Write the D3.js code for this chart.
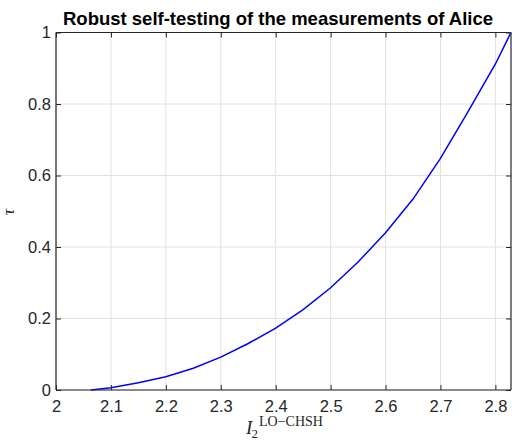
<!DOCTYPE html>
<html><head><meta charset="utf-8">
<script src="https://cdn.jsdelivr.net/npm/d3@7"></script>
<style>body{margin:0;background:#fff}</style>
</head><body>
<script>
const xValues = [2.0635, 2.10, 2.15, 2.20, 2.25, 2.30, 2.35, 2.40, 2.45, 2.50, 2.55, 2.60, 2.65, 2.70, 2.75, 2.80, 2.8284];
const tauValues = [0, 0.006, 0.020, 0.037, 0.061, 0.092, 0.130, 0.173, 0.225, 0.286, 0.358, 0.440, 0.534, 0.648, 0.778, 0.912, 1.0];
const xTicks = [2, 2.1, 2.2, 2.3, 2.4, 2.5, 2.6, 2.7, 2.8];
const yTicks = [0, 0.2, 0.4, 0.6, 0.8, 1];
const titleText = "Robust self-testing of the measurements of Alice";

(function () {
const W = 512, H = 440;
const m = {left: 56, right: 1, top: 32.5, bottom: 50};
const svg = d3.select("body").append("svg").attr("width", W).attr("height", H);
const x = d3.scaleLinear().domain([2, 2*Math.SQRT2]).range([m.left, W - m.right]);
const y = d3.scaleLinear().domain([0, 1]).range([H - m.bottom, m.top]);
const axisColor = "#262626";
const x0 = m.left, x1 = W - m.right, y0 = H - m.bottom, y1 = m.top;

// grid
const g = svg.append("g");
g.selectAll(".gx").data(xTicks).join("line")
  .attr("x1", d => x(d)).attr("x2", d => x(d)).attr("y1", y0).attr("y2", y1)
  .attr("stroke", "#e0e0e0").attr("stroke-width", 1);
g.selectAll(".gy").data(yTicks).join("line")
  .attr("y1", d => y(d)).attr("y2", d => y(d)).attr("x1", x0).attr("x2", x1)
  .attr("stroke", "#e0e0e0").attr("stroke-width", 1);

// curve
svg.append("path")
  .datum(xValues.map((v, i) => [v, tauValues[i]]))
  .attr("d", d3.line().x(d => x(d[0])).y(d => y(d[1])))
  .attr("fill", "none").attr("stroke", "#0000ff").attr("stroke-width", 1.5);

// axes
const fontTick = "'Liberation Sans', Arial, sans-serif";
const axB = svg.append("g").attr("transform", `translate(0,${y0})`)
  .call(d3.axisBottom(x).tickValues(xTicks).tickSize(-5).tickPadding(10).tickFormat(d3.format("")));
const axT = svg.append("g").attr("transform", `translate(0,${y1})`)
  .call(d3.axisTop(x).tickValues(xTicks).tickSize(-5).tickFormat(""));
const axL = svg.append("g").attr("transform", `translate(${x0},0)`)
  .call(d3.axisLeft(y).tickValues(yTicks).tickSize(-5).tickPadding(5).tickFormat(d3.format("")));
const axR = svg.append("g").attr("transform", `translate(${x1},0)`)
  .call(d3.axisRight(y).tickValues(yTicks).tickSize(-5).tickFormat(""));
[axB, axT, axL, axR].forEach(a => {
  a.selectAll("path").attr("stroke", axisColor).attr("stroke-width", 1.2);
  a.selectAll("line").attr("stroke", axisColor);
  a.selectAll("text").attr("fill", axisColor).style("font-family", fontTick).style("font-size", "16.5px");
});
axL.select(".domain").attr("d", `M0,${y0}V${y1}`);
axR.select(".domain").attr("d", `M0,${y0}V${y1}`);
axT.select(".domain").attr("d", `M${x0},0H${x1}`);
axB.select(".domain").attr("d", `M${x0},0H${x1}`);

// title
svg.append("text").attr("x", 278).attr("y", 25).attr("text-anchor", "middle")
  .style("font-family", fontTick).style("font-weight", "bold").style("font-size", "18.5px")
  .attr("fill", "#000").text(titleText);

// y label
svg.append("text").attr("transform", "translate(14,212) rotate(-90)").attr("text-anchor", "middle")
  .style("font-family", "'Liberation Serif', serif").style("font-style", "italic").style("font-size", "17px")
  .attr("fill", axisColor).text("τ");

// x label
const xl = svg.append("text").attr("x", 246).attr("y", 434)
  .style("font-family", "'Liberation Serif', serif").attr("fill", axisColor);
xl.append("tspan").style("font-style", "italic").style("font-size", "19px").text("I");
xl.append("tspan").attr("x", 251.5).attr("y", 438).style("font-size", "13px").text("2");
xl.append("tspan").attr("x", 259).attr("y", 426).style("font-size", "14px").text("LO−CHSH");
})();
</script>
</body></html>
